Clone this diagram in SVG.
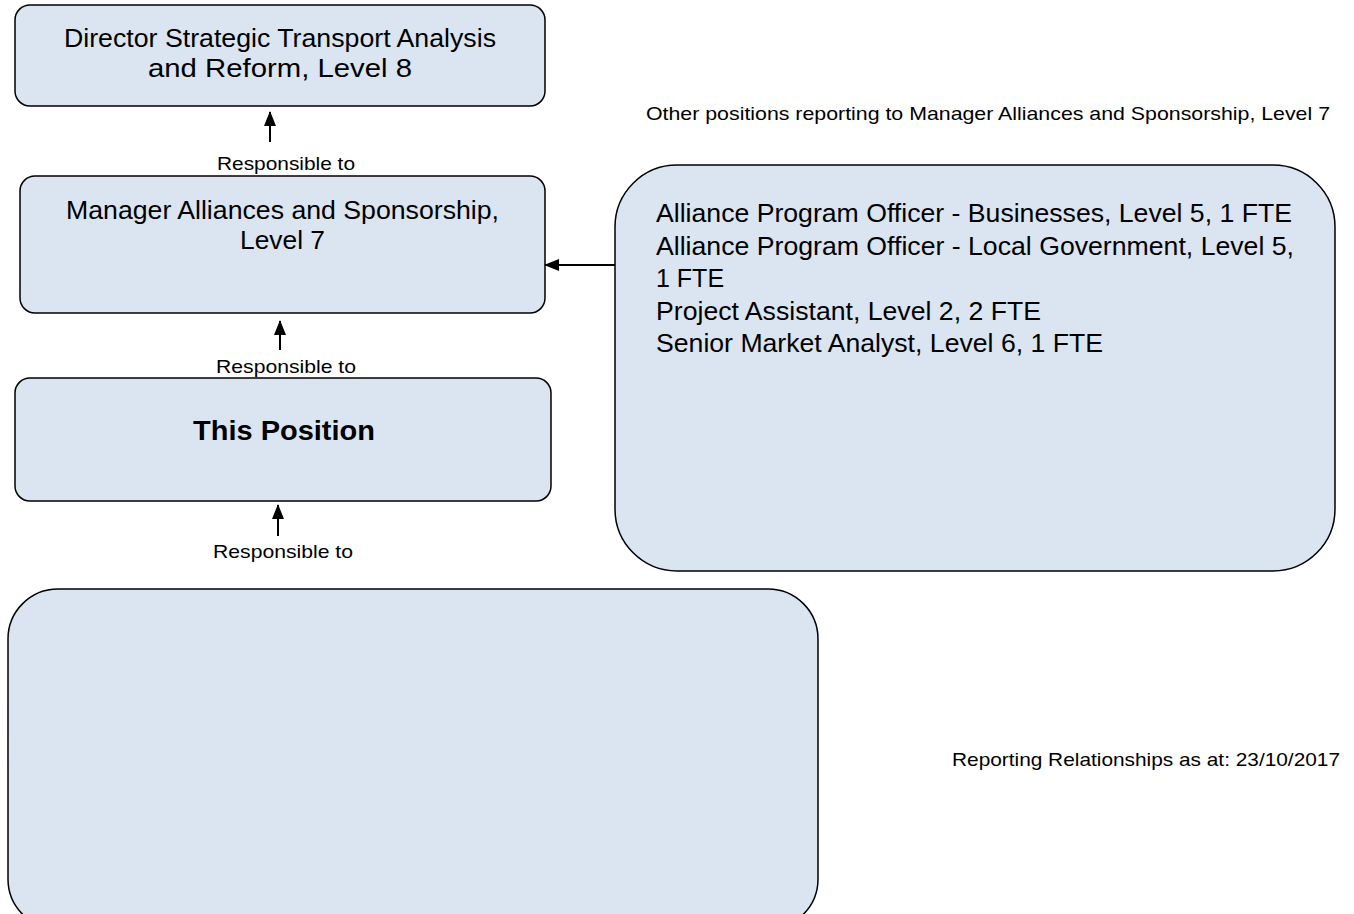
<svg xmlns="http://www.w3.org/2000/svg" width="1354" height="914" viewBox="0 0 1354 914">
<style>
.box{fill:#dbe5f1;stroke:#000;stroke-width:1.5}
.t{font-family:"Liberation Sans",Arial,sans-serif;fill:#000}
.big{font-size:25px}
.lbl{font-size:18.5px}
.sm{font-size:18.5px}
.con{stroke:#000;stroke-width:2;fill:none}
</style>
<defs>
<marker id="ah" markerWidth="15" markerHeight="13" refX="14" refY="6.5" orient="auto" markerUnits="userSpaceOnUse"><path d="M0,0.5 L15,6.5 L0,12.5 z" fill="#000"/></marker>
</defs>
<rect width="1354" height="914" fill="#fff"/>
<g id="director">
<rect class="box" x="15" y="5" width="530" height="101" rx="15"/>
<text class="t big" x="64" y="47" textLength="432" lengthAdjust="spacingAndGlyphs">Director Strategic Transport Analysis</text>
<text class="t big" x="148" y="77" textLength="264" lengthAdjust="spacingAndGlyphs">and Reform, Level 8</text>
</g>
<g id="manager">
<rect class="box" x="20" y="176" width="525" height="137" rx="15"/>
<text class="t big" x="66" y="219" textLength="433" lengthAdjust="spacingAndGlyphs">Manager Alliances and Sponsorship,</text>
<text class="t big" x="240" y="249" textLength="85" lengthAdjust="spacingAndGlyphs">Level 7</text>
</g>
<g id="this">
<rect class="box" x="15" y="378" width="536" height="123" rx="15"/>
<text class="t" x="193" y="440" font-size="27" font-weight="bold" textLength="182" lengthAdjust="spacingAndGlyphs">This Position</text>
</g>
<g id="bottom">
<rect class="box" x="8" y="589" width="810" height="340" rx="50"/>
</g>
<g id="others">
<rect class="box" x="615" y="165" width="720" height="406" rx="62"/>
<text class="t big" x="656" y="222" textLength="636" lengthAdjust="spacingAndGlyphs">Alliance Program Officer - Businesses, Level 5, 1 FTE</text>
<text class="t big" x="656" y="254.5" textLength="638" lengthAdjust="spacingAndGlyphs">Alliance Program Officer - Local Government, Level 5,</text>
<text class="t big" x="656" y="287">1 FTE</text>
<text class="t big" x="656" y="319.5" textLength="385" lengthAdjust="spacingAndGlyphs">Project Assistant, Level 2, 2 FTE</text>
<text class="t big" x="656" y="352" textLength="447" lengthAdjust="spacingAndGlyphs">Senior Market Analyst, Level 6, 1 FTE</text>
</g>
<g id="connectors">
<line class="con" x1="270" y1="142" x2="270" y2="112" marker-end="url(#ah)"/>
<line class="con" x1="280" y1="350" x2="280" y2="321" marker-end="url(#ah)"/>
<line class="con" x1="278" y1="536" x2="278" y2="505" marker-end="url(#ah)"/>
<line class="con" x1="615" y1="265" x2="545" y2="265" marker-end="url(#ah)"/>
<text class="t lbl" x="217" y="170" textLength="138" lengthAdjust="spacingAndGlyphs">Responsible to</text>
<text class="t lbl" x="216" y="373" textLength="140" lengthAdjust="spacingAndGlyphs">Responsible to</text>
<text class="t lbl" x="213" y="558" textLength="140" lengthAdjust="spacingAndGlyphs">Responsible to</text>
</g>
<text class="t sm" x="646" y="120" textLength="684" lengthAdjust="spacingAndGlyphs">Other positions reporting to Manager Alliances and Sponsorship, Level 7</text>
<text class="t sm" x="952" y="766" textLength="388" lengthAdjust="spacingAndGlyphs">Reporting Relationships as at: 23/10/2017</text>
</svg>
